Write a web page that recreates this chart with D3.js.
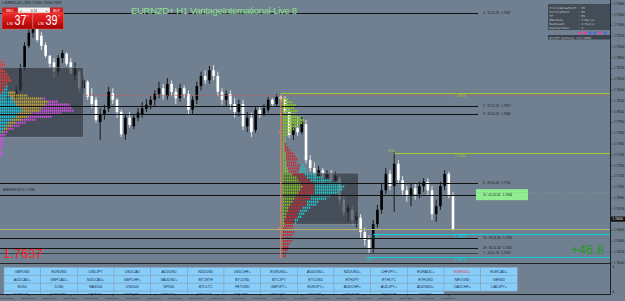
<!DOCTYPE html>
<html>
<head>
<meta charset="utf-8">
<script src="https://cdn.jsdelivr.net/npm/d3@7"></script>
<style>
  html, body { margin: 0; padding: 0; background: #708090; }
  svg { display: block; font-family: "Liberation Sans", Arial, sans-serif; }
</style>
</head>
<body>
<div id="chart"></div>
<script>
// EURNZD+ H1 candles (bar 0 = leftmost visible bar)
const openP = [1.7826,1.7831,1.7828,1.7839,1.7870,1.7901,1.7919,1.7926,1.7915,1.7902,
  1.7887,1.7878,1.7865,1.7884,1.7890,1.7878,1.7860,1.7865,1.7842,1.7851,
  1.7831,1.7826,1.7795,1.7805,1.7814,1.7835,1.7826,1.7809,1.7778,1.7801,
  1.7789,1.7801,1.7806,1.7813,1.7819,1.7826,1.7834,1.7842,1.7831,1.7848,
  1.7837,1.7828,1.7842,1.7834,1.7812,1.7826,1.7845,1.7859,1.7853,1.7867,
  1.7859,1.7837,1.7826,1.7834,1.7820,1.7809,1.7820,1.7789,1.7801,1.7784,
  1.7812,1.7806,1.7812,1.7826,1.7820,1.7830,1.7827,1.7809,1.7777,1.7787,
  1.7781,1.7792,1.7742,1.7731,1.7720,1.7728,1.7717,1.7723,1.7714,1.7717,
  1.7687,1.7670,1.7673,1.7659,1.7662,1.7642,1.7631,1.7620,1.7653,1.7673,
  1.7700,1.7723,1.7706,1.7737,1.7714,1.7700,1.7692,1.7703,1.7695,1.7706,
  1.7712,1.7700,1.7667,1.7678,1.7706,1.7723,1.7692]
const highP = [1.7839,1.7837,1.7845,1.7876,1.7906,1.7926,1.7934,1.7930,1.7920,1.7906,
  1.7888,1.7884,1.7888,1.7895,1.7892,1.7884,1.7878,1.7867,1.7859,1.7853,
  1.7842,1.7830,1.7814,1.7819,1.7844,1.7842,1.7828,1.7812,1.7805,1.7809,
  1.7806,1.7814,1.7823,1.7827,1.7831,1.7839,1.7851,1.7848,1.7856,1.7853,
  1.7842,1.7848,1.7846,1.7839,1.7831,1.7851,1.7865,1.7867,1.7873,1.7874,
  1.7865,1.7842,1.7839,1.7839,1.7828,1.7826,1.7826,1.7809,1.7808,1.7816,
  1.7817,1.7820,1.7830,1.7828,1.7834,1.7833,1.7831,1.7814,1.7795,1.7801,
  1.7802,1.7798,1.7749,1.7739,1.7734,1.7731,1.7728,1.7728,1.7726,1.7721,
  1.7692,1.7680,1.7678,1.7670,1.7667,1.7648,1.7637,1.7659,1.7680,1.7709,
  1.7731,1.7728,1.7753,1.7742,1.7720,1.7706,1.7709,1.7709,1.7712,1.7717,
  1.7717,1.7706,1.7687,1.7712,1.7728,1.7726,1.7698]
const lowP = [1.7817,1.7820,1.7826,1.7837,1.7867,1.7898,1.7912,1.7906,1.7895,1.7884,
  1.7870,1.7856,1.7860,1.7877,1.7873,1.7860,1.7853,1.7837,1.7835,1.7826,
  1.7814,1.7794,1.7770,1.7798,1.7809,1.7820,1.7801,1.7774,1.7770,1.7787,
  1.7785,1.7796,1.7801,1.7809,1.7813,1.7817,1.7828,1.7826,1.7826,1.7831,
  1.7820,1.7823,1.7828,1.7806,1.7806,1.7820,1.7839,1.7848,1.7848,1.7853,
  1.7831,1.7819,1.7817,1.7812,1.7801,1.7803,1.7784,1.7781,1.7774,1.7780,
  1.7801,1.7803,1.7808,1.7816,1.7817,1.7823,1.7805,1.7773,1.7770,1.7776,
  1.7778,1.7737,1.7726,1.7714,1.7714,1.7710,1.7707,1.7706,1.7709,1.7680,
  1.7664,1.7656,1.7652,1.7648,1.7634,1.7623,1.7612,1.7613,1.7648,1.7667,
  1.7695,1.7700,1.7670,1.7709,1.7692,1.7684,1.7678,1.7687,1.7689,1.7698,
  1.7692,1.7659,1.7656,1.7673,1.7700,1.7689,1.7644]
const closeP = [1.7831,1.7826,1.7839,1.7870,1.7901,1.7919,1.7927,1.7909,1.7901,1.7887,
  1.7876,1.7865,1.7884,1.7891,1.7876,1.7863,1.7870,1.7842,1.7853,1.7830,
  1.7820,1.7798,1.7805,1.7812,1.7837,1.7826,1.7809,1.7778,1.7801,1.7791,
  1.7801,1.7808,1.7814,1.7819,1.7826,1.7834,1.7842,1.7833,1.7848,1.7837,
  1.7828,1.7842,1.7834,1.7812,1.7826,1.7845,1.7859,1.7853,1.7867,1.7859,
  1.7837,1.7826,1.7834,1.7820,1.7809,1.7820,1.7789,1.7801,1.7781,1.7812,
  1.7806,1.7814,1.7826,1.7820,1.7830,1.7827,1.7809,1.7777,1.7787,1.7781,
  1.7795,1.7742,1.7731,1.7720,1.7728,1.7717,1.7723,1.7714,1.7720,1.7687,
  1.7670,1.7676,1.7659,1.7664,1.7642,1.7631,1.7620,1.7653,1.7673,1.7700,
  1.7723,1.7706,1.7737,1.7714,1.7700,1.7692,1.7703,1.7695,1.7706,1.7712,
  1.7700,1.7667,1.7678,1.7706,1.7723,1.7692,1.7646]

// price axis and time axis labels
const axisTicks = [1.7960,1.7945,1.7930,1.7915,1.7900,1.7885,1.7870,1.7855,1.7840,1.7825,
  1.7810,1.7795,1.7780,1.7765,1.7750,1.7735,1.7720,1.7705,1.7690,1.7675,1.7660,1.7645,1.7630,1.7615,1.7600]
const dateTicks = ["22 Jan 2024","22 Jan 05:00","22 Jan 10:00","22 Jan 15:00","22 Jan 20:00","23 Jan 01:00",
  "23 Jan 06:00","23 Jan 11:00","23 Jan 16:00","23 Jan 21:00","24 Jan 02:00","24 Jan 07:00",
  "24 Jan 12:00","24 Jan 17:00","24 Jan 22:00","25 Jan 03:00","25 Jan 08:00","25 Jan 13:00",
  "25 Jan 18:00","25 Jan 23:00","26 Jan 04:00","26 Jan 09:00"]
const bidPrice = 1.7660

// numbered horizontal levels
const levelPrice = [1.7947, 1.7817, 1.7806, 1.7710, 1.7694, 1.7634, 1.7620, 1.7613]
const levelName = ["4 : 16.01.24", "2 : 17.01.24", "3 : 19.01.24", "8 : 29.01.24",
  "11 : 01.02.24", "10 : 26.01.24", "29 : 30.01.24", "7 : 10.01.24"]
const highlightLevel = 4

// other indicator lines: [price, start bar, colour, dash]
const hiLines = [1.7835, 1.7752]          // green highs
const hiStart = [65, 92]
const hiTag = ["", "R 50"]
const loLines = [1.7639, 1.7607]          // cyan lows
const loStart = [87, 85.5]
const loTag = ["L 75", "L 75"]
const redDashPrice = 1.7832
const oliveLinePrice = 1.7646
const dottedGreenPrice = 1.7697

// volume profile boxes
const boxStart = [-2, 65.5], boxEnd = [18, 83.5]
const boxTop = [1.7871, 1.7724], boxBottom = [1.7774, 1.7653]
const vpStep = 0.00042
const vp1Top = 1.7878
const vp1Red  = [4,6,3,5,8,10,12,8,6,4,2,0,0,0,0,0,0,0,0,0,0,0,0,0,0,0,0,0,0,0,0,0]
const vp1Cyan = [0,0,0,0,0,0,0,0,2,4,6,8,12,14,16,20,22,18,16,12,8,6,4,2,0,0,0,0,0,0,0,0]
const vp1Gold = [0,0,0,0,0,0,0,0,0,0,8,20,30,34,30,22,18,14,12,10,8,6,4,2,0,0,0,0,0,0,0,0]
const vp1Mag  = [0,0,0,0,0,0,0,0,0,0,0,0,4,10,24,30,34,30,24,14,10,8,6,4,6,4,3,4,3,2,3,2]
const vp2Top = 1.7827
const vp2Green = [6,10,13,12,15,14,18,22,20,16,12,8,5,3,3,2,2,2,3,3,3,4,4,5,6,10,14,16,18,20,
  18,16,14,12,10,8,6,5,4,3,2,2,1,0,0,0,0,0,0,0,0,0,0]
const vp2Red = [0,0,0,0,0,0,0,0,0,0,0,0,0,0,0,2,4,6,8,10,12,10,14,12,10,12,10,12,14,12,
  14,16,14,16,14,16,14,12,12,12,10,10,9,10,12,10,8,9,7,6,5,4,3]
const vp2Cyan = [0,0,0,0,0,0,0,0,0,0,0,0,0,0,0,0,0,0,0,0,0,0,3,6,8,12,16,20,26,30,
  28,24,20,16,12,10,8,8,6,4,3,2,0,0,0,0,0,0,0,0,0,0,0]

// symbol buttons
const row1 = ["GBPUSD","EURUSD","USDJPY","USDCAD","AUDUSD","NZDUSD","USDCHF+","EURUSD+","AUDUSD+","NZDUSD+","CHFJPY+","EURAUD+","EURNZD+","EURCAD+"]
const row2 = ["AUDCAD+","GBPCAD+","NZDCAD+","GBPCHF+","XAUUSD+","BTCETH","BTCUSD","BTCJPY","ETCUSD","ETHJPY","ETHLTC","ETHUSD","NEOUSD","GER40"]
const row3 = ["EU50","DJ30","NAS100","US2000","SP500","BTCLTC","FETUSD","GBPJPY+","EURJPY+","AUDCHF+","AUDJPY+","AUDNZD+","CADCHF+","CADJPY+"]
const row4 = ["EURCHF+","EURGBP+","GBPAUD+","GBPNZD+","GBPUSD+","NZDCHF+","NZDJPY+","USDCAD+","USDJPY+","ETHEUR","BTCEUR","LTCUSD"]
const activeSymbol = "EURNZD+"

const infoLines = ["ProfileDrawShift : MI", "ProfileShift     : MI", "TF               : MN",
  "DBoxSize         : 3 Bar(s)", "BoxHeight        : 3 Pip(s)", "DayStartHour     : 0"]
const infoDots = ["#e8409a","#e8409a","#4a6ae0","#4a6ae0","#e8409a","#4a6ae0"]

const W = 625, H = 301
const axisX = 610.5

const svg = d3.select("#chart").append("svg")
  .attr("width", W).attr("height", H)

svg.append("rect").attr("width", W).attr("height", H).attr("fill", "#708090")

const x = d3.scaleLinear().domain([0, 106]).range([7.8, 453])
const y = d3.scaleLinear().domain([1.7600, 1.7960]).range([262.3, 3.3])
const vw = d3.scaleLinear().domain([0, 10]).range([0, 10])   // profile volume -> px

const defs = svg.append("defs")
defs.append("clipPath").attr("id", "plotClip")
  .append("rect").attr("x", 0).attr("y", 0).attr("width", axisX).attr("height", 263)
const grad = defs.append("linearGradient").attr("id", "redGrad").attr("x1", 0).attr("x2", 0).attr("y1", 0).attr("y2", 1)
grad.append("stop").attr("offset", "0%").attr("stop-color", "#f02a2a")
grad.append("stop").attr("offset", "100%").attr("stop-color", "#a80000")

const plot = svg.append("g").attr("clip-path", "url(#plotClip)")

// top level line (4) sits under the title
// candles
const bars = d3.range(openP.length)
const col = i => closeP[i] >= openP[i] ? "#000" : "#fff"
plot.append("g").selectAll("line").data(bars).join("line")
  .attr("x1", i => x(i)).attr("x2", i => x(i))
  .attr("y1", i => y(highP[i])).attr("y2", i => y(lowP[i]))
  .attr("stroke", col).attr("stroke-width", 0.8)
plot.append("g").selectAll("rect").data(bars).join("rect")
  .attr("x", i => x(i) - 1.3).attr("width", 2.6)
  .attr("y", i => y(Math.max(openP[i], closeP[i])))
  .attr("height", i => Math.max(0.8, Math.abs(y(openP[i]) - y(closeP[i]))))
  .attr("fill", col)

// profile boxes
plot.append("g").selectAll("rect").data(boxStart).join("rect")
  .attr("x", (d, i) => x(d)).attr("width", (d, i) => x(boxEnd[i]) - x(d))
  .attr("y", (d, i) => y(boxTop[i])).attr("height", (d, i) => y(boxBottom[i]) - y(boxTop[i]))
  .attr("fill", "#30373f").attr("fill-opacity", 0.68)
  .attr("stroke", "#8c98a4").attr("stroke-width", 0.5)

// volume profiles: stacked, drawn as dotted rows
function profile(x0, top, series, colors) {
  const g = plot.append("g")
  series[0].forEach((_, r) => {
    let cx = x0
    const py = y(top - r * vpStep)
    series.forEach((s, k) => {
      if (s[r] > 0) {
        g.append("line")
          .attr("x1", cx).attr("x2", cx + vw(s[r]))
          .attr("y1", py).attr("y2", py)
          .attr("stroke", colors[k]).attr("stroke-width", 2.1)
          .attr("stroke-dasharray", "1.4,0.6")
        cx += vw(s[r])
      }
    })
  })
}
profile(0, vp1Top, [vp1Red, vp1Cyan, vp1Gold, vp1Mag], ["#e83838", "#12d0e6", "#c9a63a", "#d24ee2"])
profile(x(65.5), vp2Top, [vp2Green, vp2Red, vp2Cyan], ["#86c41e", "#c8282e", "#22c6c6"])

// level lines
const lv = plot.append("g")
lv.selectAll("line").data(levelPrice).join("line")
  .attr("x1", 0).attr("x2", 478)
  .attr("y1", d => Math.round(y(d)) + 0.5).attr("y2", d => Math.round(y(d)) + 0.5)
  .attr("stroke", (d, i) => i === 7 ? "#3a3f44" : "#111").attr("stroke-width", 1)
lv.append("rect")
  .attr("x", 476).attr("y", y(levelPrice[highlightLevel]) - 5.5)
  .attr("width", 52).attr("height", 11).attr("fill", "#90ee90")
lv.selectAll("text").data(levelPrice).join("text")
  .attr("x", 483).attr("y", d => y(d) + 1.1)
  .attr("font-size", 3).attr("fill", "#151515")
  .text((d, i) => levelName[i] + " : " + d.toFixed(4))

// red dashed, olive, dotted green
plot.append("line").attr("x1", 85).attr("x2", axisX)
  .attr("y1", y(redDashPrice)).attr("y2", y(redDashPrice))
  .attr("stroke", "#d25a5a").attr("stroke-width", 0.7).attr("stroke-dasharray", "3,2")
plot.append("line").attr("x1", 0).attr("x2", axisX)
  .attr("y1", Math.round(y(oliveLinePrice)) + 0.5).attr("y2", Math.round(y(oliveLinePrice)) + 0.5)
  .attr("stroke", "#b4b46c").attr("stroke-width", 1)
plot.append("line").attr("x1", 478).attr("x2", axisX)
  .attr("y1", y(dottedGreenPrice)).attr("y2", y(dottedGreenPrice))
  .attr("stroke", "#78a878").attr("stroke-width", 0.6).attr("stroke-dasharray", "1,2")

// high lines (green) and low lines (cyan)
hiLines.forEach((p, i) => {
  plot.append("line").attr("x1", x(hiStart[i])).attr("x2", axisX)
    .attr("y1", Math.round(y(p)) + 0.5).attr("y2", Math.round(y(p)) + 0.5)
    .attr("stroke", "#9acd32").attr("stroke-width", 1)
  plot.append("text").attr("x", 455).attr("y", y(p) + 3.6)
    .attr("font-size", 3).attr("fill", "#9acd32").text(p.toFixed(5))
  if (hiTag[i]) plot.append("text").attr("x", x(hiStart[i]) - 6).attr("y", y(p) - 0.8)
    .attr("font-size", 3).attr("fill", "#9acd32").text(hiTag[i])
})
loLines.forEach((p, i) => {
  plot.append("line").attr("x1", x(loStart[i])).attr("x2", axisX)
    .attr("y1", Math.round(y(p)) + 0.5).attr("y2", Math.round(y(p)) + 0.5)
    .attr("stroke", "#00d4de").attr("stroke-width", 1.2)
  plot.append("text").attr("x", 455).attr("y", y(p) + 3.6)
    .attr("font-size", 3).attr("fill", "#00d4de").text(p.toFixed(5))
  plot.append("text").attr("x", x(loStart[i]) - 1).attr("y", y(p) + 3.4)
    .attr("font-size", 3).attr("fill", "#00d4de").text(loTag[i])
})

// orange session line
plot.append("line").attr("x1", x(65)).attr("x2", x(65))
  .attr("y1", y(1.7830)).attr("y2", y(1.7606))
  .attr("stroke", "#ff7f45").attr("stroke-width", 1)
;[1.7781, 1.7648].forEach(p => plot.append("line")
  .attr("x1", x(65) - 3).attr("x2", x(65)).attr("y1", y(p)).attr("y2", y(p))
  .attr("stroke", "#ff7f45").attr("stroke-width", 0.8))

// top numbered line under title
plot.append("text").attr("x", 3).attr("y", 191).attr("font-size", 2.6).attr("fill", "#1a1a1a")
  .text("ADRHIGHLOW 20 : 1.7686")

// title
svg.append("text").attr("x", 131).attr("y", 13.5)
  .attr("font-size", 9.6).attr("fill", "#8fe08f").attr("textLength", 166)
  .text("EURNZD+ H1 VantageInternational-Live 8")

// top strip
svg.append("text").attr("x", 2).attr("y", 4).attr("font-size", 2.6).attr("fill", "#151515")
  .text("▾ EURNZD+,H1  1.76376 1.76454 1.76346 1.76376")

// trade panel
const tp = svg.append("g")
tp.append("rect").attr("x", 2).attr("y", 7.5).attr("width", 16).attr("height", 5.5).attr("fill", "#d42020")
tp.append("rect").attr("x", 18).attr("y", 7.5).attr("width", 32).attr("height", 5.5).attr("fill", "#f2f2f2").attr("stroke", "#999").attr("stroke-width", 0.4)
tp.append("rect").attr("x", 50).attr("y", 7.5).attr("width", 13).attr("height", 5.5).attr("fill", "#d42020")
tp.append("text").attr("x", 10).attr("y", 11.6).attr("text-anchor", "middle").attr("font-size", 3.2).attr("fill", "#fff").text("SELL")
tp.append("text").attr("x", 56.5).attr("y", 11.6).attr("text-anchor", "middle").attr("font-size", 3.2).attr("fill", "#fff").text("BUY")
tp.append("text").attr("x", 34).attr("y", 11.7).attr("text-anchor", "middle").attr("font-size", 3.4).attr("fill", "#222").text("0.11")
tp.append("text").attr("x", 20).attr("y", 11.7).attr("font-size", 3.4).attr("fill", "#444").text("◂")
tp.append("text").attr("x", 45.5).attr("y", 11.7).attr("font-size", 3.4).attr("fill", "#444").text("▸")
const quotes = [["37", 2], ["39", 33]]
quotes.forEach(([q, qx]) => {
  tp.append("rect").attr("x", qx).attr("y", 13).attr("width", 30.5).attr("height", 16)
    .attr("fill", "url(#redGrad)").attr("stroke", "#ff7070").attr("stroke-width", 0.4)
  tp.append("text").attr("x", qx + 5).attr("y", 24.5).attr("font-size", 4.4).attr("fill", "#fff").text("LN")
  tp.append("text").attr("x", qx + 12.5).attr("y", 25.3).attr("font-size", 15).attr("fill", "#fff")
    .attr("textLength", 12).attr("lengthAdjust", "spacingAndGlyphs").text(q)
  tp.append("text").attr("x", qx + 25.5).attr("y", 20).attr("font-size", 7).attr("fill", "#fff").text("'")
})

// info panel top right
const ip = svg.append("g")
ip.append("rect").attr("x", 548).attr("y", 4).attr("width", 62).attr("height", 26).attr("fill", "#3b444e").attr("fill-opacity", 0.85)
ip.selectAll("text").data(infoLines).join("text")
  .attr("x", 549.5).attr("y", (d, i) => 9 + i * 4)
  .attr("font-family", "DejaVu Sans Mono, monospace").attr("font-size", 2.8)
  .attr("fill", "#c9cdd2").attr("xml:space", "preserve").text(d => d)
ip.selectAll("circle").data(infoDots).join("circle")
  .attr("cx", (d, i) => 580 + i * 5).attr("cy", 32.8).attr("r", 1.6).attr("fill", d => d)
ip.append("rect").attr("x", 548).attr("y", 35).attr("width", 62).attr("height", 4.5).attr("fill", "#3b444e")
ip.append("text").attr("x", 549.5).attr("y", 38.5).attr("font-family", "DejaVu Sans Mono, monospace")
  .attr("font-size", 2.8).attr("fill", "#c9cdd2").text("Dt/OFF Setting: Ctrl(NUM)")

// big texts
svg.append("text").attr("x", 3).attr("y", 257.5).attr("font-size", 13).attr("fill", "#ff2020").text("1.7637")
svg.append("text").attr("x", 571).attr("y", 253.5).attr("font-size", 13).attr("fill", "#229922").text("+46.8")

// subwindow separator
svg.append("line").attr("x1", 0).attr("x2", axisX).attr("y1", 263.5).attr("y2", 263.5).attr("stroke", "#1e2226")

// buttons
const bx = d3.scaleBand().domain(d3.range(14)).range([4, 517.3])
const by = d3.scaleBand().domain(d3.range(4)).range([267.3, 299])
const btn = svg.append("g")
;[row1, row2, row3, row4].forEach((row, r) => {
  const g = btn.append("g")
  g.selectAll("rect").data(row).join("rect")
    .attr("x", (d, c) => bx(c)).attr("y", by(r))
    .attr("width", bx.bandwidth()).attr("height", by.bandwidth())
    .attr("fill", "#87cefa").attr("stroke", "#8aa0b4").attr("stroke-width", 0.5)
  g.selectAll("text").data(row).join("text")
    .attr("x", (d, c) => bx(c) + bx.bandwidth() / 2).attr("y", by(r) + 5.3)
    .attr("text-anchor", "middle").attr("font-size", 3.6)
    .attr("fill", d => d === activeSymbol ? "#e8304a" : "#15294a").text(d => d)
})

// time axis strip
svg.append("rect").attr("x", 0).attr("y", 295).attr("width", W).attr("height", 6).attr("fill", "#708090")
svg.append("line").attr("x1", 0).attr("x2", axisX).attr("y1", 294.5).attr("y2", 294.5).attr("stroke", "#1e2226")
const dt = svg.append("g")
dt.selectAll("line").data(dateTicks).join("line")
  .attr("x1", (d, i) => x(i * 5)).attr("x2", (d, i) => x(i * 5))
  .attr("y1", 294.5).attr("y2", 296.5).attr("stroke", "#1e2226").attr("stroke-width", 0.5)
dt.selectAll("text").data(dateTicks).join("text")
  .attr("x", (d, i) => x(i * 5) - 7.5).attr("y", 298.5)
  .attr("font-size", 2.4).attr("fill", "#1a1a1a").text(d => d)

// price axis
svg.append("line").attr("x1", axisX).attr("x2", axisX).attr("y1", 0).attr("y2", 295).attr("stroke", "#1e2226")
const ax = svg.append("g").attr("transform", `translate(${axisX},0)`)
  .call(d3.axisRight(y).tickValues(axisTicks).tickFormat(d3.format(".5f")).tickSize(2).tickPadding(1.5))
ax.select(".domain").remove()
ax.selectAll("line").attr("stroke", "#1e2226").attr("stroke-width", 0.5)
ax.selectAll("text").attr("font-size", 2.9).attr("fill", "#1a1a1a").attr("font-family", "Liberation Sans, Arial, sans-serif")
// bid marker
const by0 = y(bidPrice)
svg.append("rect").attr("x", axisX + 0.5).attr("y", by0 - 2.6).attr("width", 14).attr("height", 5.2).attr("fill", "#111")
svg.append("text").attr("x", axisX + 2).attr("y", by0 + 1.1).attr("font-size", 2.9).attr("fill", "#e8e8e8").text(bidPrice.toFixed(5))
// sub-window zero labels
;[266.5, 292].forEach(v => svg.append("text").attr("x", axisX + 2).attr("y", v + 1)
  .attr("font-size", 2.9).attr("fill", "#1a1a1a").text("0"))
</script>
</body>
</html>
